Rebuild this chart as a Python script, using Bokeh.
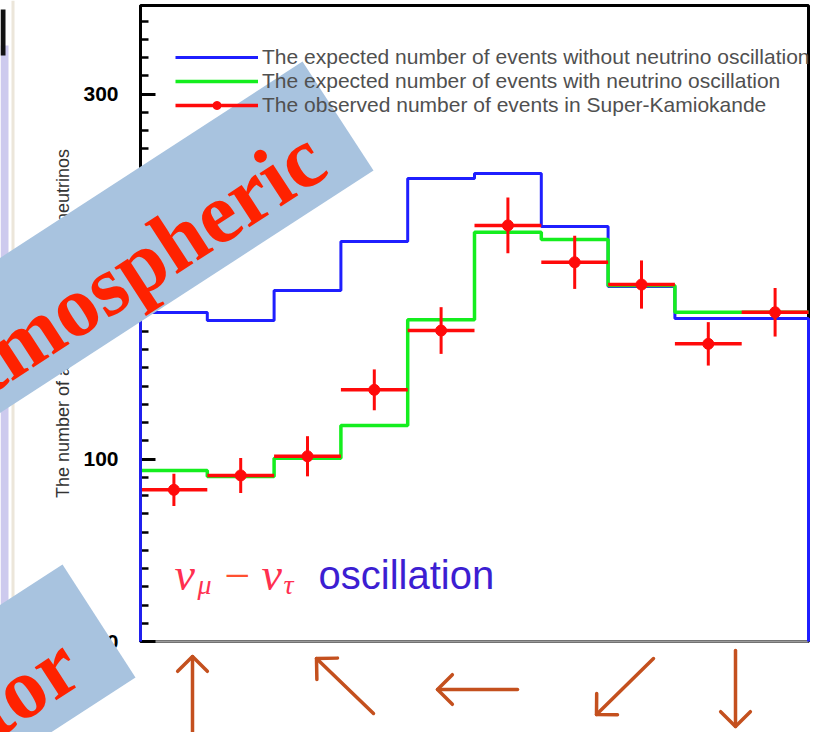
import numpy as np
from bokeh.plotting import figure
from bokeh.core.properties import value
from bokeh.models import (Range1d, FixedTicker, Legend, LegendItem, Label, LinearAxis)
from bokeh.embed import file_html
from bokeh.resources import INLINE

# Zenith-angle distribution of muon events, cos(theta) bins from -1 (upward) to +1 (downward)
bin_edges = [-1.0, -0.8, -0.6, -0.4, -0.2, 0.0, 0.2, 0.4, 0.6, 0.8, 1.0]
expected_no_osc = [180.3, 175.9, 192.3, 219.2, 253.7, 256.4, 227.4, 194.5, 177.0, 177.0]
expected_osc = [93.7, 90.4, 100.4, 118.4, 176.3, 224.3, 220.3, 195.1, 180.4, 180.4]
observed = [83.1, 91.0, 101.5, 137.9, 170.4, 228.0, 207.8, 195.6, 163.1, 180.4]
observed_err = [8.8, 9.6, 11.0, 11.2, 12.8, 15.3, 14.6, 13.2, 11.9, 13.3]
y_ticks = [0, 100, 200, 300]
y_minor_ticks = list(range(0, 350, 10))
legend_labels = [
    "The expected number of events without neutrino oscillation",
    "The expected number of events with neutrino oscillation",
    "The observed number of events in Super-Kamiokande",
]
y_title = "The number of atmospheric muon neutrinos"
banner_texts = ["Atmospheric", "Reactor"]

BLUE = "#1f1fff"
GREEN = "#14ee1e"
RED = "#ff0a0a"
BROWN = "#c4501e"
BANNER = "#a8c3df"
BANNER_TEXT = "#ff2200"

W, H = 820, 732
# chart box inside the slide, in pixels
BOX_L, BOX_R, BOX_T, BOX_B = 140, 808, 5, 641
Y_MAX = 348.5

edges = np.asarray(bin_edges)
centers = (edges[:-1] + edges[1:]) / 2
obs = np.asarray(observed)
err = np.asarray(observed_err)

# data ranges chosen so that the chart box lands at BOX_* while the frame fills the slide
xs_per_px = (edges[-1] - edges[0]) / (BOX_R - BOX_L)
ys_per_px = Y_MAX / (BOX_B - BOX_T)
X0 = edges[0] - BOX_L * xs_per_px
X1 = edges[-1] + (W - BOX_R) * xs_per_px
Y0 = -(H - BOX_B) * ys_per_px
Y1 = Y_MAX + BOX_T * ys_per_px


def sx(px):
    return X0 + np.asarray(px, float) * xs_per_px


def sy(py):
    return Y1 - np.asarray(py, float) * ys_per_px


def step_path(vals, close=False):
    xs = np.repeat(edges, 2)[1:-1]
    ys = np.repeat(np.asarray(vals, float), 2)
    if close:
        xs = np.concatenate([[edges[0]], xs, [edges[-1]]])
        ys = np.concatenate([[0.0], ys, [0.0]])
    return xs, ys


p = figure(width=W, height=H, output_backend="svg", toolbar_location=None,
           x_range=Range1d(X0, X1), y_range=Range1d(Y0, Y1),
           x_axis_type=None, y_axis_type=None, min_border=0)
p.background_fill_color = "white"
p.border_fill_color = "white"
p.outline_line_color = None

# slide edge decorations
p.quad(left=sx([0, 0, 11]), right=sx([8, 5, 14]), top=sy([45, 9, 0]), bottom=sy([645, 55, 650]),
       fill_color=["#cdcaee", "#111111", "#ece6da"], line_alpha=0)

# chart box
p.quad(left=edges[0], right=edges[-1], bottom=0, top=Y_MAX, fill_color="white",
       line_color="black", line_width=3)
p.segment(x0=edges[0], y0=0, x1=edges[-1], y1=0, line_color="#9a9a9a", line_width=2.5)

ya = LinearAxis(fixed_location=edges[0], bounds=(0, Y_MAX))
ya.ticker = FixedTicker(ticks=y_ticks, minor_ticks=y_minor_ticks)
ya.axis_line_width = 3
ya.axis_line_color = "black"
ya.major_tick_in = 15
ya.major_tick_out = 0
ya.minor_tick_in = 8
ya.minor_tick_out = 0
ya.major_tick_line_width = 3
ya.minor_tick_line_width = 2.5
ya.major_label_standoff = 22
ya.major_label_text_font = "Liberation Sans"
ya.major_label_text_font_style = "bold"
ya.major_label_text_font_size = "21px"
ya.major_label_text_color = "black"
ya.axis_label = y_title
ya.axis_label_text_font = "Liberation Sans"
ya.axis_label_text_font_style = "normal"
ya.axis_label_text_font_size = "18px"
ya.axis_label_text_color = "#333333"
ya.axis_label_standoff = 7
p.add_layout(ya, "left")

bx, by = step_path(expected_no_osc, close=True)
r_blue = p.line(bx, by, line_color=BLUE, line_width=3)
gx, gy = step_path(expected_osc)
r_green = p.line(gx, gy, line_color=GREEN, line_width=3.5)
# outer edge of the no-oscillation histogram runs over the y axis line
p.segment(x0=edges[0], y0=0, x1=edges[0], y1=expected_no_osc[0], line_color="#2020ee",
          line_width=3, level="annotation")

r_h = p.segment(x0=edges[:-1], y0=obs, x1=edges[1:], y1=obs, line_color=RED, line_width=3.5)
r_v = p.segment(x0=centers, y0=obs - err, x1=centers, y1=obs + err, line_color=RED, line_width=3)
r_dot = p.scatter(centers, obs, marker="circle", size=11, fill_color=RED, line_color=RED)

legend = Legend(items=[LegendItem(label=legend_labels[0], renderers=[r_blue]),
                       LegendItem(label=legend_labels[1], renderers=[r_green]),
                       LegendItem(label=legend_labels[2], renderers=[r_h, r_dot])],
                location=(175, 615), orientation="vertical",
                glyph_width=83, glyph_height=20, label_height=20, label_standoff=4,
                spacing=-3, padding=0, margin=0,
                border_line_color=None, background_fill_alpha=0,
                label_text_font="Liberation Sans", label_text_font_size="21px",
                label_text_color="#505050")
p.add_layout(legend, "center")

cap = dict(x_units="canvas", y_units="canvas", text_baseline="alphabetic")
p.add_layout(Label(x=174, y=574, text="ν", text_font="Liberation Serif", text_font_style="italic",
                   text_font_size="46px", text_color="#ff3050", **cap))
p.add_layout(Label(x=197, y=584, text="μ", text_font="Liberation Serif", text_font_style="italic",
                   text_font_size="28px", text_color="#ff3050", **cap))
p.add_layout(Label(x=224, y=575, text="−", text_font="Liberation Serif",
                   text_font_size="46px", text_color="#ff5030", **cap))
p.add_layout(Label(x=261, y=574, text="ν", text_font="Liberation Serif", text_font_style="italic",
                   text_font_size="46px", text_color="#ff3050", **cap))
p.add_layout(Label(x=283, y=584, text="τ", text_font="Liberation Serif", text_font_style="italic",
                   text_font_size="28px", text_color="#ff3050", **cap))
p.add_layout(Label(x=318, y=574, text="oscillation", text_font="Liberation Sans",
                   text_font_size="40px", text_color="#3c1ed2", **cap))

# direction arrows under the cos(zenith) axis: (tail, tip) in pixels
arrows = [((192, 736), (192, 656)),
          ((373, 713), (316, 658)),
          ((517, 689), (437, 689)),
          ((653, 658), (596, 714)),
          ((735, 650), (735, 726))]
axs, ays = [], []
for (tx, ty), (hx, hy) in arrows:
    d = np.array([tx - hx, ty - hy], float)
    d /= np.hypot(*d)
    arms = []
    for s in (1, -1):
        c, sn = np.cos(s * np.pi / 4), np.sin(s * np.pi / 4)
        v = np.array([c * d[0] - sn * d[1], sn * d[0] + c * d[1]]) * 21
        arms.append((hx + v[0], hy + v[1]))
    axs += [sx([tx, hx]), sx([arms[0][0], hx, arms[1][0]])]
    ays += [sy([ty, hy]), sy([arms[0][1], hy, arms[1][1]])]
p.multi_line(axs, ays, line_color=BROWN, line_width=3.5, line_join="round", line_cap="round")

# rotated banners on top of everything: right-end corners and text anchor (baseline, right)
ang = np.deg2rad(33)
back = np.array([-np.cos(ang), np.sin(ang)]) * 900
banners = [((302, 61), (373, 170), (315, 149)),
           ((62, 564), (135, 677), (70, 656))]
pxs, pys, tx_, ty_ = [], [], [], []
for top, bot, anchor in banners:
    pxs.append(sx([top[0], bot[0], bot[0] + back[0], top[0] + back[0]]))
    pys.append(sy([top[1], bot[1], bot[1] + back[1], top[1] + back[1]]))
    tx_.append(float(sx(anchor[0])))
    ty_.append(float(sy(anchor[1])))
p.patches(pxs, pys, fill_color=BANNER, line_alpha=0, level="overlay")
p.text(x=tx_, y=ty_, text=banner_texts, angle=33, angle_units="deg",
       text_align="right", text_baseline="alphabetic",
       text_font=value("Liberation Serif"), text_font_style="bold",
       text_font_size="86px", text_color=BANNER_TEXT, level="overlay")

open("out.html", "w").write(file_html(p, INLINE))
